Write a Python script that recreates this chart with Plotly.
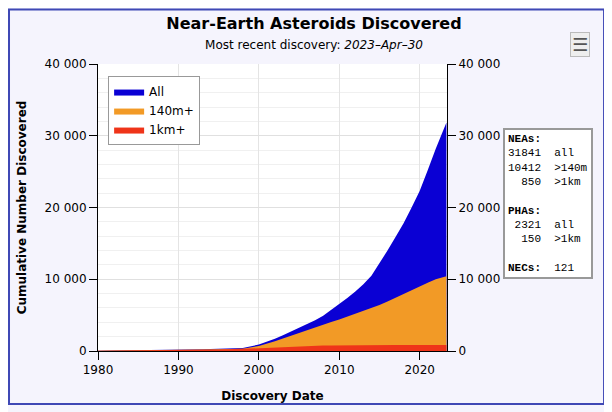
import plotly.graph_objects as go

years = [1980, 1985, 1990, 1993, 1995, 1998, 2000, 2001, 2002, 2003, 2004, 2005, 2006, 2007, 2008, 2009, 2010,
         2011, 2012, 2013, 2014, 2015, 2016, 2017, 2018, 2019, 2020, 2021, 2022, 2023.33]
all_neas = [50, 90, 160, 250, 330, 420, 900, 1250, 1700, 2200, 2700, 3200, 3700, 4300, 4900, 5700, 6600,
            7400, 8300, 9300, 10500, 12200, 14000, 15900, 17800, 20000, 22300, 25200, 28200, 31841]
m140 = [40, 70, 130, 200, 260, 330, 700, 1000, 1350, 1750, 2150, 2550, 2950, 3300, 3700, 4050, 4400,
        4800, 5200, 5550, 5950, 6400, 6900, 7450, 8000, 8500, 9000, 9500, 10000, 10412]
km1 = [30, 60, 110, 170, 220, 300, 400, 470, 530, 580, 630, 670, 700, 730, 750, 770, 790,
       800, 810, 815, 820, 825, 830, 835, 838, 842, 845, 847, 849, 850]

fig = go.Figure()
for name, vals, col in [("All", all_neas, "#0a00d4"), ("140m+", m140, "#f29a26"), ("1km+", km1, "#ef3419")]:
    fig.add_trace(go.Scatter(x=years, y=vals, name=name, mode="lines", fill="tozeroy",
                             line=dict(width=0, color=col), fillcolor=col))
fig.add_trace(go.Scatter(x=[2000], y=[0], yaxis="y2", showlegend=False, mode="markers",
                         marker=dict(opacity=0), hoverinfo="skip"))

ax = dict(showline=True, linecolor="black", ticks="outside", tickcolor="black", ticklen=8,
          tickfont=dict(family="DejaVu Sans", size=12, color="black"))
fig.update_layout(
    width=612, height=412, margin=dict(l=90, r=173, t=56, b=69),
    paper_bgcolor="#f5f4fd", plot_bgcolor="white",
    font=dict(family="DejaVu Sans", color="black"),
    title=dict(text="<b>Near-Earth Asteroids Discovered</b><br><span style='font-size:12px'>Most recent discovery: <i>2023–Apr–30</i></span>",
               x=0.5, xref="container", y=0.95, yanchor="top", font=dict(size=16)),
    xaxis=dict(range=[1980, 2023.4], dtick=10, tick0=1980, showgrid=True, gridcolor="#e4e4e4",
               title=dict(text="<b>Discovery Date</b>", font=dict(size=12)), **ax),
    yaxis=dict(range=[0, 40000], dtick=10000, showgrid=True, gridcolor="#e0e0e0", tickformat=",",
               minor=dict(dtick=2000, showgrid=True, gridcolor="#f0f0f0"),
               title=dict(text="<b>Cumulative Number Discovered</b>", font=dict(size=12)), **ax),
    yaxis2=dict(range=[0, 40000], dtick=10000, overlaying="y", side="right", showgrid=False,
                tickformat=",", **ax),
    separators=". ",
    legend=dict(x=0.029, y=0.958, xanchor="left", yanchor="top", bgcolor="white",
                bordercolor="#999", borderwidth=1, font=dict(size=12), tracegroupgap=0),
    showlegend=True,
)
info = ("<b>NEAs:</b><br>31841  all<br>10412  >140m<br>  850  >1km<br><br>"
        "<b>PHAs:</b><br> 2321  all<br>  150  >1km<br><br><b>NECs:</b>  121")
fig.add_annotation(xref="paper", yref="paper", x=1.16, y=0.777, xanchor="left", yanchor="top",
                   text=info.replace(" ", "&nbsp;"), align="left", showarrow=False,
                   font=dict(family="Liberation Mono", size=11, color="black"),
                   bgcolor="white", bordercolor="#999", borderwidth=2, borderpad=3)
fig.add_annotation(xref="paper", yref="paper", x=1.41, y=1.11, text="☰", showarrow=False,
                   font=dict(size=18, color="#555"), bgcolor="#eeeeee", bordercolor="#bbb",
                   borderwidth=1, borderpad=1)
fig.add_shape(type="rect", xref="paper", yref="paper", x0=-0.255, x1=1.45, y0=-0.185, y1=1.19,
              line=dict(color="#3f48b5", width=2), layer="below")
fig.write_html("out.html")
